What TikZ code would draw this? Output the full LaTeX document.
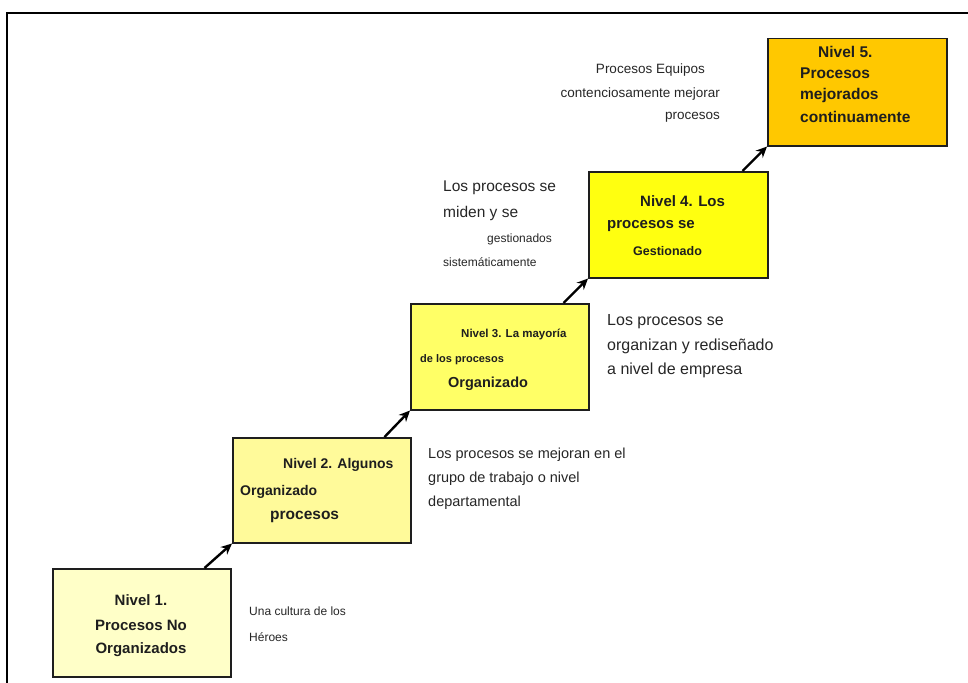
\documentclass[tikz,border=0pt]{standalone}
\usepackage{fontspec}
\setmainfont{Liberation Sans}
\usetikzlibrary{arrows.meta}
\definecolor{lvA}{HTML}{FFFFC8}
\definecolor{lvB}{HTML}{FFFA9A}
\definecolor{lvC}{HTML}{FFFF66}
\definecolor{lvD}{HTML}{FFFF10}
\definecolor{lvE}{HTML}{FFC800}
\definecolor{ink}{HTML}{1E1E1E}
\newcommand{\fs}[1]{\fontsize{#1}{#1}\selectfont}
\tikzset{
  level/.style={draw=ink, line width=1.5pt, anchor=north west, inner sep=0pt},
  boxtxt/.style={font=\bfseries, text=ink, inner sep=0pt},
  sidetxt/.style={text=black!85, inner sep=0pt},
  stairarrow/.style={draw=black, line width=2.4pt, -{Stealth[length=11pt,width=10pt]}},
  frameline/.style={draw=black, line width=2pt}
}
\begin{document}
\begin{tikzpicture}[x=1pt,y=-1pt]
\useasboundingbox (0,0) rectangle (968,682);
% open frame on the left and top
\coordinate (fb) at (7,690);
\coordinate (fc) at (7,13);
\coordinate (fr) at (975,13);
\draw[frameline] (fb) -- (fc) -- (fr);

% the five level boxes
\node[level, fill=lvA, minimum width=178pt, minimum height=108pt] (b1) at (52,568) {};
\node[level, fill=lvB, minimum width=178pt, minimum height=105pt] (b2) at (232,437) {};
\node[level, fill=lvC, minimum width=178pt, minimum height=106pt] (b3) at (410,303) {};
\node[level, fill=lvD, minimum width=179pt, minimum height=106pt] (b4) at (588,171) {};
\node[level, fill=lvE, minimum width=179pt, minimum height=107pt] (b5) at (767,38) {};

% arrows climbing the stairs
\draw[stairarrow] ([xshift=-27pt]b1.north east) -- (b2.south west);
\draw[stairarrow] ([xshift=-27pt]b2.north east) -- (b3.south west);
\draw[stairarrow] ([xshift=-26pt]b3.north east) -- (b4.south west);
\draw[stairarrow] ([xshift=-26pt]b4.north east) -- (b5.south west);

% level 1
\node[boxtxt, font=\bfseries\fs{15}] (t1a) at (141,600) {Nivel 1.};
\node[boxtxt, font=\bfseries\fs{15}] (t1b) at (141,625) {Procesos No};
\node[boxtxt, font=\bfseries\fs{15}] (t1c) at (141,650) {Organizados};
% level 2
\node[boxtxt, anchor=west, font=\bfseries\fs{14}] (t2a) at (283,465) {Nivel 2. Algunos};
\node[boxtxt, anchor=west, font=\bfseries\fs{14}] (t2b) at (240,492) {Organizado};
\node[boxtxt, anchor=west, font=\bfseries\fs{15.5}] (t2c) at (270,517) {procesos};
% level 3
\node[boxtxt, anchor=west, font=\bfseries\fs{11.5}] (t3a) at (461,334) {Nivel 3. La mayoría};
\node[boxtxt, anchor=west, font=\bfseries\fs{11}] (t3b) at (420,360) {de los procesos};
\node[boxtxt, anchor=west, font=\bfseries\fs{14.5}] (t3c) at (448,384) {Organizado};
% level 4
\node[boxtxt, anchor=west, font=\bfseries\fs{15}] (t4a) at (640,201) {Nivel 4. Los};
\node[boxtxt, anchor=west, font=\bfseries\fs{15}] (t4b) at (607,226) {procesos se};
\node[boxtxt, anchor=west, font=\bfseries\fs{12.5}] (t4c) at (633,251) {Gestionado};
% level 5
\node[boxtxt, anchor=west, font=\bfseries\fs{15.5}] (t5a) at (818,52) {Nivel 5.};
\node[boxtxt, anchor=west, font=\bfseries\fs{15.5}] (t5b) at (800,73) {Procesos};
\node[boxtxt, anchor=west, font=\bfseries\fs{15.5}] (t5c) at (800,95) {mejorados};
\node[boxtxt, anchor=west, font=\bfseries\fs{15.5}] (t5d) at (800,117) {continuamente};

% descriptions beside the boxes
\node[sidetxt, anchor=west, font=\fs{12}] (s1a) at (249,611) {Una cultura de los};
\node[sidetxt, anchor=west, font=\fs{12}] (s1b) at (249,637) {Héroes};

\node[sidetxt, anchor=west, font=\fs{14.5}] (s2a) at (428,455) {Los procesos se mejoran en el};
\node[sidetxt, anchor=west, font=\fs{14.5}] (s2b) at (428,479) {grupo de trabajo o nivel};
\node[sidetxt, anchor=west, font=\fs{14.5}] (s2c) at (428,503) {departamental};

\node[sidetxt, anchor=west, font=\fs{16}] (s3a) at (607,322) {Los procesos se};
\node[sidetxt, anchor=west, font=\fs{16}] (s3b) at (607,346) {organizan y rediseñado};
\node[sidetxt, anchor=west, font=\fs{16}] (s3c) at (607,370) {a nivel de empresa};

\node[sidetxt, anchor=west, font=\fs{15.5}] (s4a) at (443,188) {Los procesos se};
\node[sidetxt, anchor=west, font=\fs{15.5}] (s4b) at (443,213) {miden y se};
\node[sidetxt, anchor=west, font=\fs{12}] (s4c) at (487,239) {gestionados};
\node[sidetxt, anchor=west, font=\fs{12}] (s4d) at (443,262) {sistemáticamente};

\node[sidetxt, anchor=east, font=\fs{13.5}] (s5a) at (705,70) {Procesos Equipos};
\node[sidetxt, anchor=east, font=\fs{13.5}] (s5b) at (720,94) {contenciosamente mejorar};
\node[sidetxt, anchor=east, font=\fs{13.5}] (s5c) at (720,117) {procesos};
\end{tikzpicture}
\end{document}
